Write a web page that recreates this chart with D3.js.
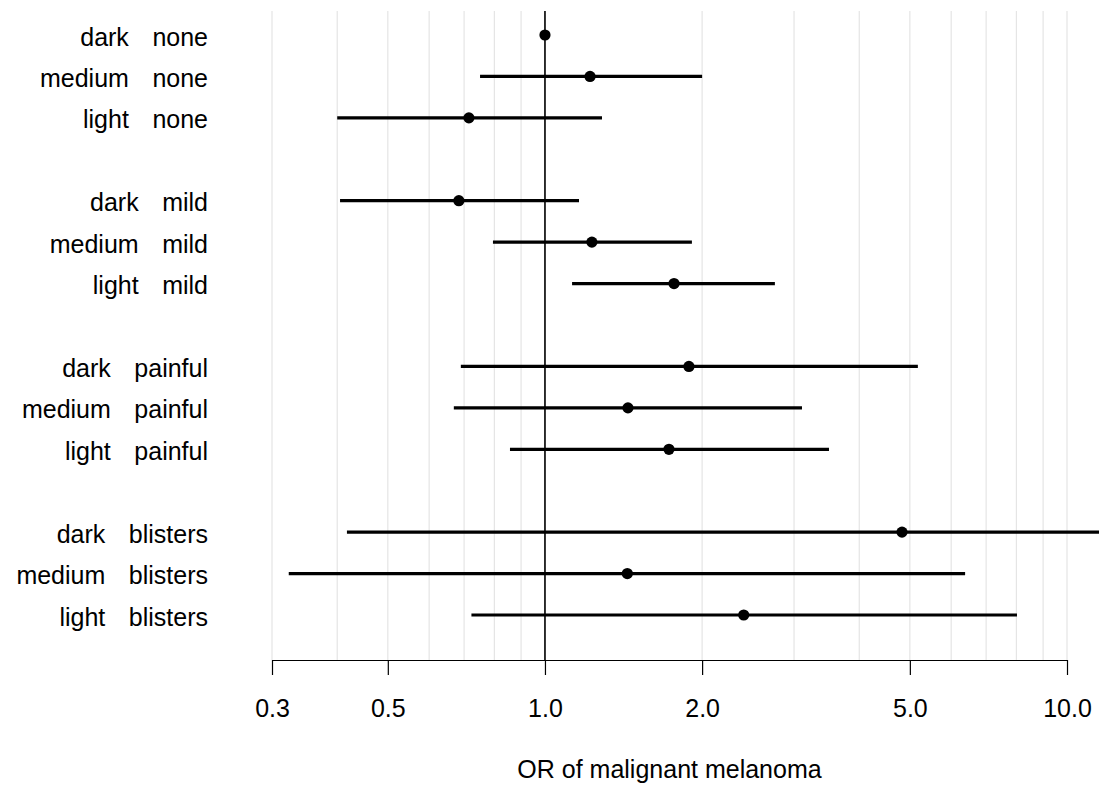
<!DOCTYPE html>
<html>
<head>
<meta charset="utf-8">
<script src="https://cdn.jsdelivr.net/npm/d3@7"></script>
<style>
  body { margin: 0; background: #fff; }
  text { font-family: "Liberation Sans", Arial, sans-serif; }
</style>
</head>
<body>
<div id="chart"></div>
<script>
// data
const pigment = ["dark", "medium", "light", "dark", "medium", "light", "dark", "medium", "light", "dark", "medium", "light"];
const burn = ["none", "none", "none", "mild", "mild", "mild", "painful", "painful", "painful", "blisters", "blisters", "blisters"];
const slot = [0, 1, 2, 4, 5, 6, 8, 9, 10, 12, 13, 14]; // row positions, gaps between groups
const est = [1.0, 1.22, 0.715, 0.684, 1.23, 1.767, 1.887, 1.442, 1.728, 4.83, 1.438, 2.403];
const lower = [1.0, 0.751, 0.40, 0.405, 0.795, 1.127, 0.690, 0.669, 0.857, 0.4175, 0.323, 0.723];
const upper = [1.0, 2.0, 1.286, 1.162, 1.912, 2.757, 5.18, 3.107, 3.50, 12.5, 6.38, 8.02];
const tickVals = [0.3, 0.5, 1, 2, 5, 10];
const gridVals = [0.3, 0.4, 0.5, 0.6, 0.7, 0.8, 0.9, 1, 2, 3, 4, 5, 6, 7, 8, 9, 10];

const width = 1106, height = 786;
const plot = { left: 240, right: 1099, top: 11, bottom: 660 };

const svg = d3.select("#chart").append("svg")
  .attr("width", width)
  .attr("height", height);

const x = d3.scaleLog().domain([0.3, 10]).range([272, 1067]);
const y = d3.scaleLinear().domain([0, 14]).range([35, 615]);

svg.append("clipPath").attr("id", "clip")
  .append("rect")
  .attr("x", plot.left).attr("y", plot.top)
  .attr("width", plot.right - plot.left).attr("height", plot.bottom - plot.top);

// light vertical grid
svg.append("g").selectAll("line").data(gridVals).join("line")
  .attr("x1", d => x(d)).attr("x2", d => x(d))
  .attr("y1", plot.top).attr("y2", plot.bottom)
  .attr("stroke", "#e5e5e5").attr("stroke-width", 1.2);

// reference line at OR = 1
svg.append("line")
  .attr("x1", x(1)).attr("x2", x(1))
  .attr("y1", plot.top).attr("y2", plot.bottom)
  .attr("stroke", "#000").attr("stroke-width", 1.6);

const rows = est.map((e, i) => ({ e, lo: lower[i], hi: upper[i], s: slot[i], p: pigment[i], b: burn[i] }));

const marks = svg.append("g").attr("clip-path", "url(#clip)");

marks.selectAll("line.ci").data(rows.filter(d => d.hi > d.lo)).join("line")
  .attr("class", "ci")
  .attr("x1", d => x(d.lo)).attr("x2", d => x(d.hi))
  .attr("y1", d => y(d.s)).attr("y2", d => y(d.s))
  .attr("stroke", "#000").attr("stroke-width", 3.2);

marks.selectAll("circle").data(rows).join("circle")
  .attr("cx", d => x(d.e)).attr("cy", d => y(d.s))
  .attr("r", 5.6).attr("fill", "#000");

// row labels: two words, right aligned
const lab = svg.append("g").selectAll("text").data(rows).join("text")
  .attr("x", 208).attr("y", d => y(d.s) + 10.5)
  .attr("text-anchor", "end")
  .attr("font-size", 25)
  .attr("fill", "#000");
lab.append("tspan").text(d => d.p);
lab.append("tspan").attr("dx", 23.5).text(d => d.b);

// x axis
const axis = svg.append("g")
  .attr("transform", `translate(0,${plot.bottom})`)
  .call(d3.axisBottom(x)
    .tickValues(tickVals)
    .tickFormat(d3.format(".1f"))
    .tickSize(15)
    .tickSizeOuter(0)
    .tickPadding(24));
axis.select(".domain").attr("stroke", "#000").attr("stroke-width", 1.2);
axis.selectAll(".tick line").attr("stroke", "#000").attr("stroke-width", 1.2);
axis.selectAll(".tick text")
  .attr("font-size", 25)
  .attr("font-family", "Liberation Sans, Arial, sans-serif")
  .attr("fill", "#000");

svg.append("text")
  .attr("x", (plot.left + plot.right) / 2)
  .attr("y", 778)
  .attr("text-anchor", "middle")
  .attr("font-size", 25)
  .attr("fill", "#000")
  .text("OR of malignant melanoma");
</script>
</body>
</html>
